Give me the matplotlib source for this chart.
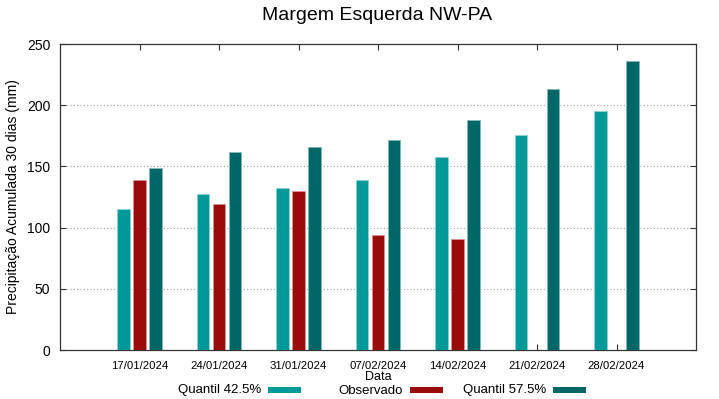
import numpy as np
import matplotlib
matplotlib.use("Agg")
import matplotlib.pyplot as plt
from matplotlib.patches import Rectangle

# data
datas = ["17/01/2024", "24/01/2024", "31/01/2024", "07/02/2024",
         "14/02/2024", "21/02/2024", "28/02/2024"]
quantil_425 = [115, 127.5, 132, 138.5, 157.5, 176, 195.5]
observado = [138.5, 119, 130, 94, 91, np.nan, np.nan]
quantil_575 = [149, 161.5, 166, 171.5, 188, 213, 236.5]
nomes = ["Quantil 42.5%", "Observado", "Quantil 57.5%"]

COR_Q1 = "#009999"
COR_OBS = "#990c0c"
COR_Q2 = "#006666"

plt.rcParams["font.family"] = ["Liberation Sans", "DejaVu Sans"]

W, H = 719, 399
fig = plt.figure(figsize=(W / 100, H / 100), dpi=100)
ax = fig.add_axes([60 / W, 49 / H, 636 / W, 306 / H])

x = np.arange(len(datas))
w = 0.155
kw = dict(width=w, linewidth=0.6, zorder=3)
ax.bar(x - 0.2, quantil_425, color=COR_Q1, edgecolor="#8fd0d0", **kw)
ax.bar(x, observado, color=COR_OBS, edgecolor="#e09090", **kw)
ax.bar(x + 0.2, quantil_575, color=COR_Q2, edgecolor="#80b8b8", **kw)

ax.set_xlim(-1, 7)
ax.set_ylim(0, 250)
ax.set_xticks(x)
ax.set_xticklabels(datas, fontsize=8.2)
ax.set_yticks([0, 50, 100, 150, 200, 250])
ax.tick_params(axis="y", labelsize=10, pad=7)
ax.tick_params(direction="in", length=4, width=0.8, top=True, right=True,
               color="#333333")
ax.tick_params(axis="x", pad=8)
for s in ax.spines.values():
    s.set_linewidth(0.9)
    s.set_color("#333333")

# dotted horizontal grid only on the interior ticks
for v in [50, 100, 150, 200]:
    ax.axhline(v, color="#a0a0a0", linestyle=(0, (1, 2)), linewidth=0.8, zorder=1)

ax.set_ylabel("Precipitação Acumulada 30 dias (mm)", fontsize=10, labelpad=5)
fig.text(378 / W, 1 - 377.5 / H, "Data", ha="center", va="center", fontsize=9)
fig.text(377 / W, 1 - 16 / H, "Margem Esquerda NW-PA", ha="center",
         va="center", fontsize=14)

# legend drawn like gnuplot: right-aligned text followed by a colour box
cores = [COR_Q1, COR_OBS, COR_Q2]
texto_dir = [261, 403, 546]
for nome, cor, xr in zip(nomes, cores, texto_dir):
    fig.text(xr / W, 1 - 390.5 / H, nome, ha="right", va="center", fontsize=9.5)
    fig.add_artist(Rectangle(((xr + 7) / W, 1 - 393 / H), 33 / W, 6 / H,
                             facecolor=cor, edgecolor="none",
                             transform=fig.transFigure))

fig.savefig("out.png", dpi=100)
